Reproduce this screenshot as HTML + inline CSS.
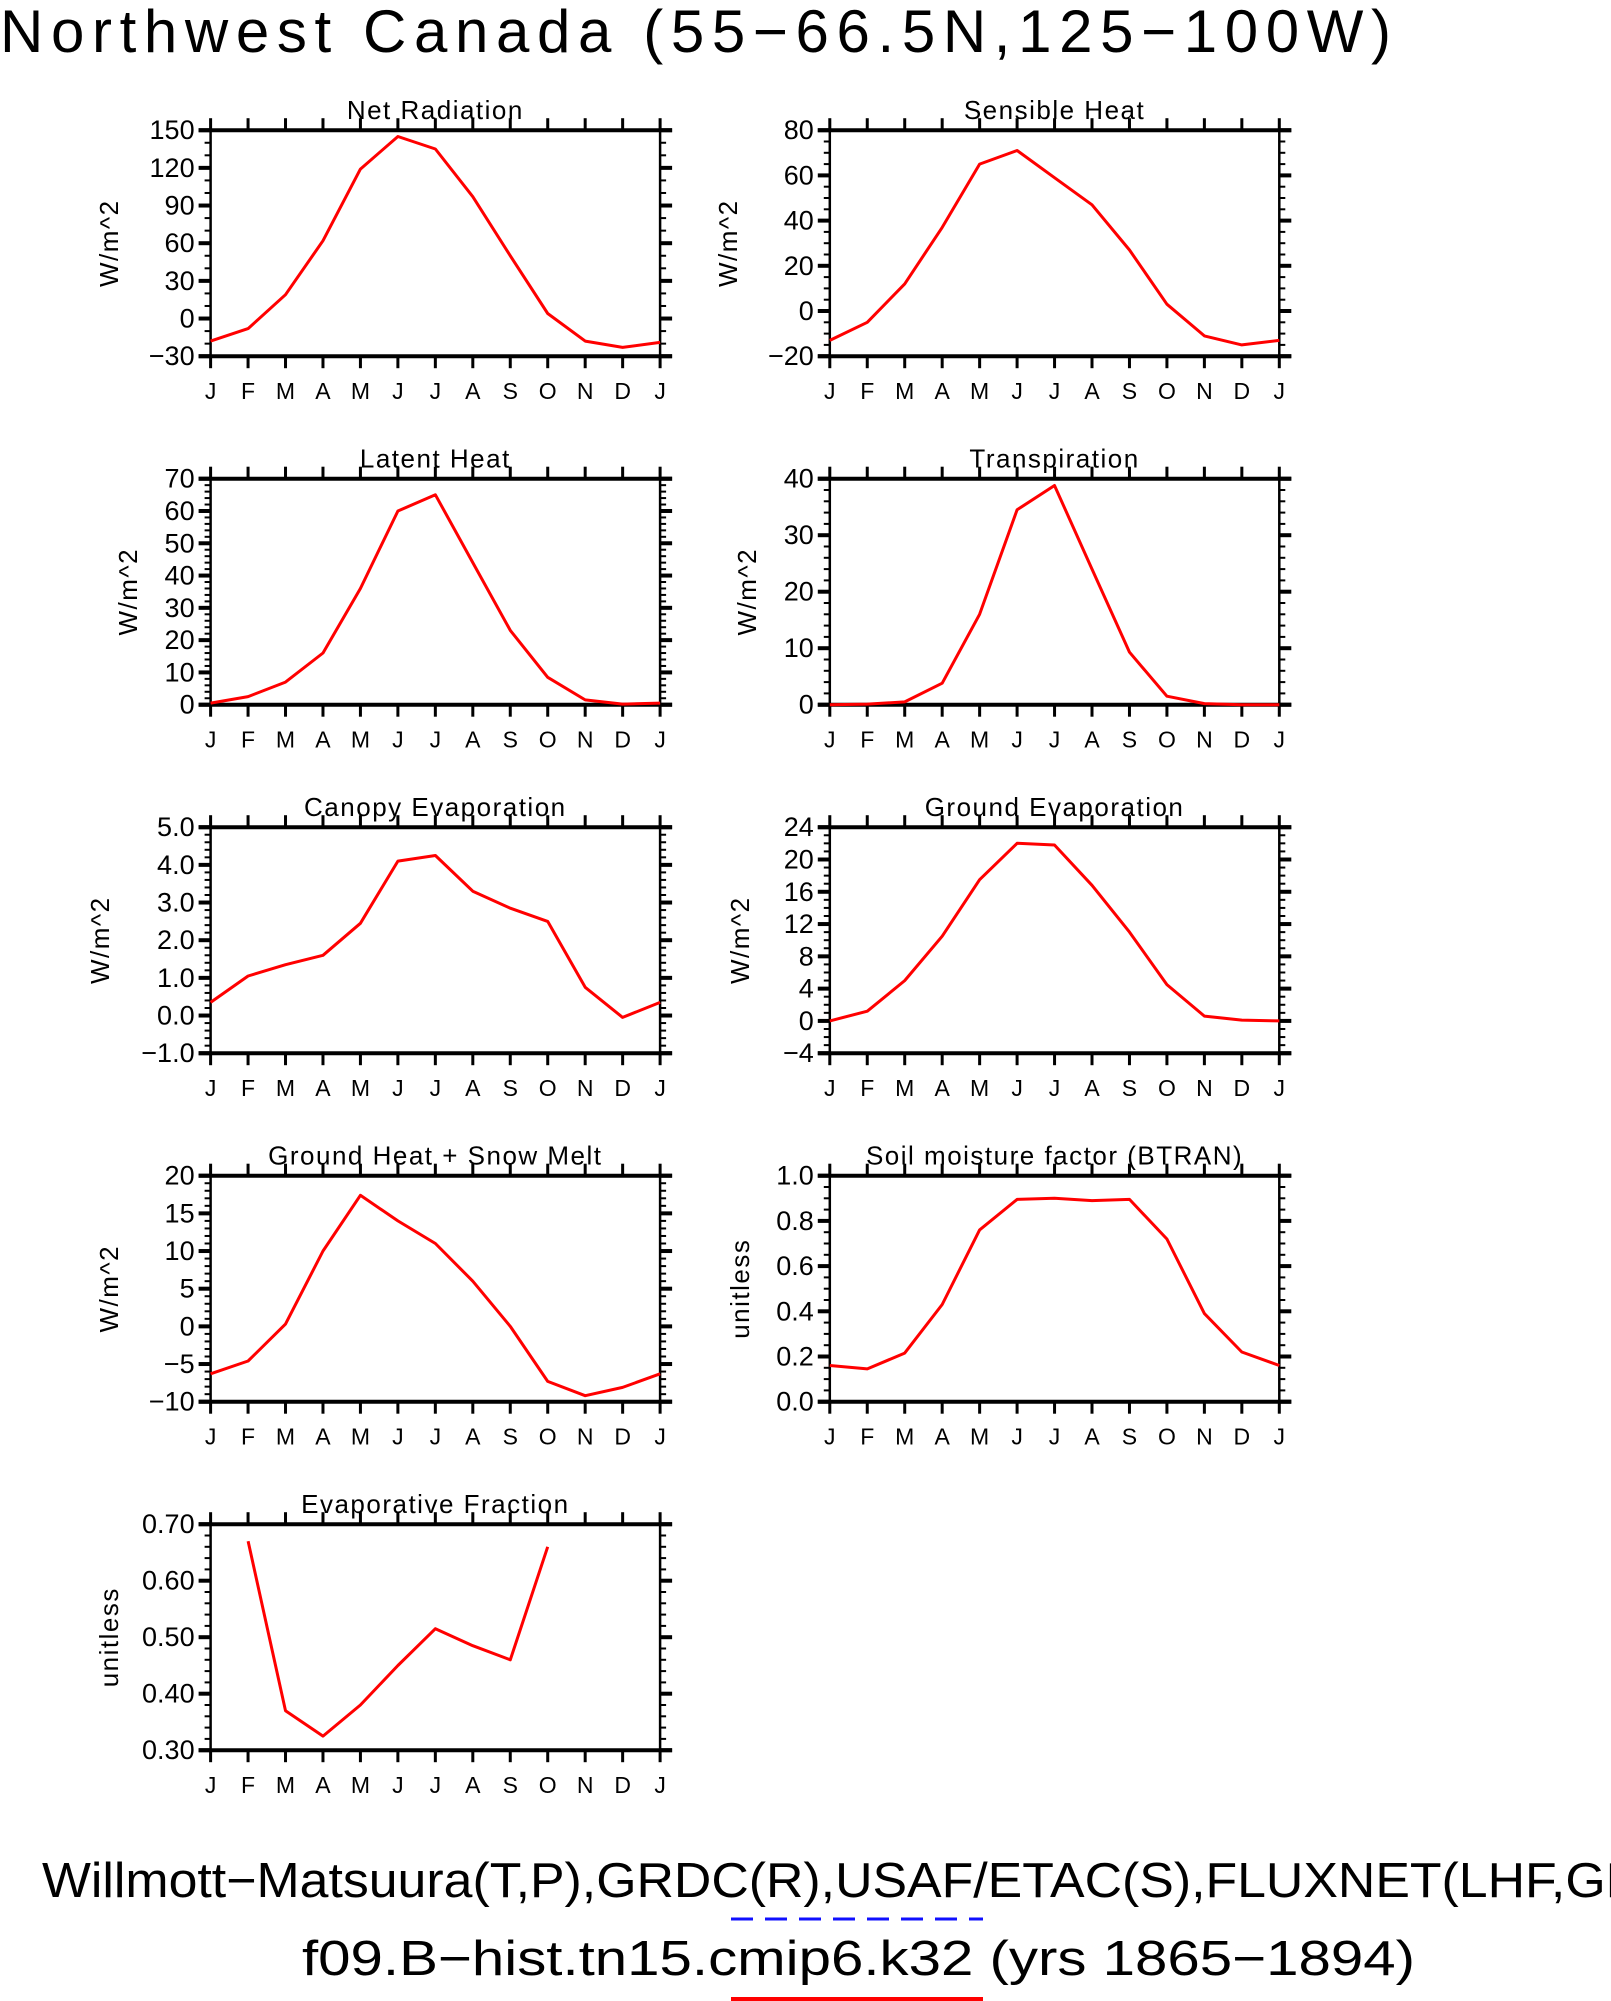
<!DOCTYPE html>
<html><head><meta charset="utf-8"><style>
html,body{margin:0;padding:0;background:#fff;}
svg{display:block;font-family:"Liberation Sans",sans-serif;}
</style></head><body>
<svg id="fig" width="1611" height="2001" viewBox="0 0 1611 2001" xmlns="http://www.w3.org/2000/svg">
<text x="0" y="52" font-size="60" fill="#000" textLength="1391" lengthAdjust="spacing">Northwest Canada (55−66.5N,125−100W)</text>
<text x="42" y="1897" font-size="49" fill="#000" textLength="1650" lengthAdjust="spacingAndGlyphs">Willmott−Matsuura(T,P),GRDC(R),USAF/ETAC(S),FLUXNET(LHF,GPP)</text>
<line x1="731" y1="1919" x2="983" y2="1919" stroke="#1010ff" stroke-width="3" stroke-dasharray="22,12"/>
<text x="302" y="1975" font-size="49" fill="#000" textLength="1113" lengthAdjust="spacingAndGlyphs">f09.B−hist.tn15.cmip6.k32 (yrs 1865−1894)</text>
<line x1="731" y1="1999" x2="983" y2="1999" stroke="#ff0000" stroke-width="4"/>
</svg>
<script>
const months = ["J","F","M","A","M","J","J","A","S","O","N","D","J"];
const netRad = [-18,-8,19,62,119,145,135,97,50,4,-18,-23,-19];
const sensHeat = [-13,-5,12,37,65,71,59,47,27,3,-11,-15,-13];
const latHeat = [0.5,2.5,7,16,36,60,65,44,23,8.5,1.5,0.2,0.5];
const transp = [0,0.1,0.5,3.8,16,34.5,38.8,24,9.3,1.5,0.2,0,0];
const canopyEvap = [0.35,1.05,1.35,1.6,2.45,4.1,4.25,3.3,2.85,2.5,0.75,-0.05,0.35];
const groundEvap = [0,1.2,5,10.5,17.5,22,21.8,16.8,11,4.5,0.6,0.1,0];
const groundHeat = [-6.3,-4.6,0.3,10,17.4,14,11,6,0,-7.3,-9.2,-8.1,-6.3];
const btran = [0.16,0.145,0.215,0.43,0.76,0.895,0.9,0.89,0.895,0.72,0.39,0.22,0.16];
const evapFrac = [null,0.67,0.37,0.325,0.38,0.45,0.515,0.485,0.46,0.66,null,null,null];

const NS="http://www.w3.org/2000/svg";
const svg=document.getElementById('fig');
function mk(tag,attrs,parent){const e=document.createElementNS(NS,tag);for(const k in attrs)e.setAttribute(k,attrs[k]);parent.appendChild(e);return e;}

const panels=[
 {name:"net-radiation",title:"Net Radiation",data:netRad,min:-30,max:150,step:30,minor:10,dec:0,col:0,row:0,yt:"W/m^2",ytx:109},
 {name:"sensible-heat",title:"Sensible Heat",data:sensHeat,min:-20,max:80,step:20,minor:5,dec:0,col:1,row:0,yt:"W/m^2",ytx:728},
 {name:"latent-heat",title:"Latent Heat",data:latHeat,min:0,max:70,step:10,minor:2,dec:0,col:0,row:1,yt:"W/m^2",ytx:128},
 {name:"transpiration",title:"Transpiration",data:transp,min:0,max:40,step:10,minor:2,dec:0,col:1,row:1,yt:"W/m^2",ytx:747},
 {name:"canopy-evaporation",title:"Canopy Evaporation",data:canopyEvap,min:-1,max:5,step:1,minor:0.2,dec:1,col:0,row:2,yt:"W/m^2",ytx:100},
 {name:"ground-evaporation",title:"Ground Evaporation",data:groundEvap,min:-4,max:24,step:4,minor:1,dec:0,col:1,row:2,yt:"W/m^2",ytx:740},
 {name:"ground-heat-snow-melt",title:"Ground Heat + Snow Melt",data:groundHeat,min:-10,max:20,step:5,minor:1,dec:0,col:0,row:3,yt:"W/m^2",ytx:109},
 {name:"soil-moisture-btran",title:"Soil moisture factor (BTRAN)",data:btran,min:0,max:1,step:0.2,minor:0.05,dec:1,col:1,row:3,yt:"unitless",ytx:740},
 {name:"evaporative-fraction",title:"Evaporative Fraction",data:evapFrac,min:0.3,max:0.7,step:0.1,minor:0.02,dec:2,col:0,row:4,yt:"unitless",ytx:109}
];
const colX=[210.6,829.8], W=449.5, H=226, rowY0=130.2, rowDY=348.5;

panels.forEach(p=>{
  const L=colX[p.col], T=rowY0+p.row*rowDY, R=L+W, B=T+H;
  const g=mk('g',{},svg);
  
  
  const xs=i=>L+i*W/12;
  const ys=v=>B-(v-p.min)/(p.max-p.min)*H;
  const t=mk('text',{x:(L+R)/2,y:T-11,'text-anchor':'middle','font-size':26,'letter-spacing':1.5},g);
  t.textContent=p.title;
  
  
  const cy=(T+B)/2;
  const yt=mk('text',{x:p.ytx,y:cy,'text-anchor':'middle','font-size':26,'letter-spacing':1.5,transform:`rotate(-90 ${p.ytx} ${cy})`,'dominant-baseline':'central'},g);
  yt.textContent=p.yt;
  
  
  const nMin=Math.round((p.max-p.min)/p.minor);
  for(let k=0;k<=nMin;k++){const y=ys(p.min+k*p.minor);
    const a=mk('line',{x1:L-6,x2:L,y1:y,y2:y,stroke:'#000','stroke-width':2},g);
    
    const b=mk('line',{x1:R,x2:R+6,y1:y,y2:y,stroke:'#000','stroke-width':2},g);
    }
  const nMaj=Math.round((p.max-p.min)/p.step);
  for(let k=0;k<=nMaj;k++){const v=p.min+k*p.step,y=ys(v);
    const a=mk('line',{x1:L-12,x2:L,y1:y,y2:y,stroke:'#000','stroke-width':4},g);
    
    const b=mk('line',{x1:R,x2:R+12,y1:y,y2:y,stroke:'#000','stroke-width':4},g);
    
    const lb=mk('text',{x:L-16,y:y,'text-anchor':'end','font-size':27,'dominant-baseline':'central'},g);
    lb.textContent=v.toFixed(p.dec).replace('-','−');
    }
  months.forEach((m,i)=>{const x=xs(i);
    const a=mk('line',{x1:x,x2:x,y1:T-12,y2:T,stroke:'#000','stroke-width':3},g);
    
    const b=mk('line',{x1:x,x2:x,y1:B,y2:B+12,stroke:'#000','stroke-width':3},g);
    
    const lb=mk('text',{x:x,y:B+43,'text-anchor':'middle','font-size':23},g);
    lb.textContent=m;
    });
  const fr=mk('rect',{x:L,y:T,width:W,height:H,fill:'none',stroke:'#000','stroke-width':2.5},g);
  
  const tb=mk('line',{x1:L-12,x2:R+12,y1:T,y2:T,stroke:'#000','stroke-width':4},g);
  
  const bb=mk('line',{x1:L-12,x2:R+12,y1:B,y2:B,stroke:'#000','stroke-width':4},g);
  
  let d='',pen=false;
  p.data.forEach((v,i)=>{if(v===null){pen=false;return;}d+=(pen?'L':'M')+xs(i).toFixed(1)+' '+ys(v).toFixed(1);pen=true;});
  const ln=mk('path',{d:d,fill:'none',stroke:'#ff0000','stroke-width':3,'stroke-linejoin':'round'},g);
  
  
});
</script>
</body></html>
